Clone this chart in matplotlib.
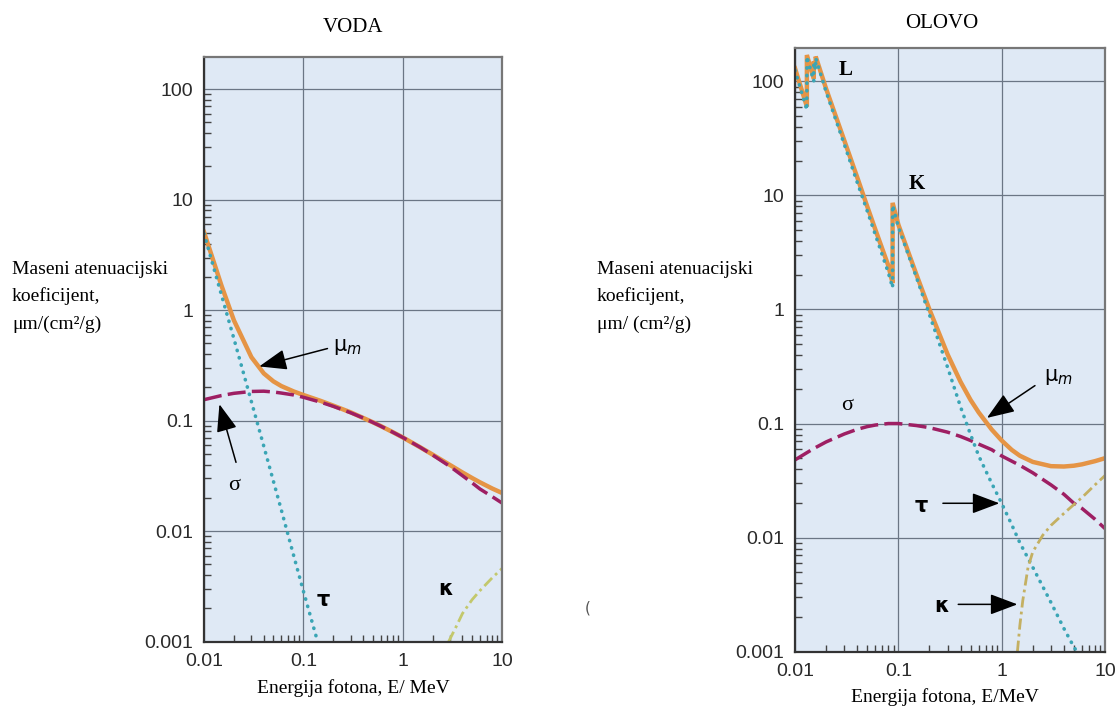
import numpy as np
import matplotlib.pyplot as plt
from matplotlib.ticker import NullFormatter

SANS = ['Liberation Sans', 'DejaVu Sans']
SERIF = ['Liberation Serif', 'DejaVu Serif']

# water (VODA)
e_w = [0.01, 0.015, 0.02, 0.03, 0.04, 0.05, 0.06, 0.08, 0.1, 0.15, 0.2, 0.3, 0.4,
       0.5, 0.6, 0.8, 1, 1.5, 2, 3, 4, 5, 6, 8, 10]
mu_w = [5.1, 1.67, 0.81, 0.376, 0.268, 0.227, 0.206, 0.184, 0.171, 0.151, 0.137, 0.119,
        0.106, 0.0969, 0.0896, 0.0786, 0.0707, 0.0575, 0.0494, 0.0397, 0.034, 0.0303,
        0.0277, 0.0243, 0.0222]
sigma_w = [0.155, 0.169, 0.177, 0.184, 0.185, 0.182, 0.178, 0.171, 0.163, 0.147, 0.135,
           0.118, 0.106, 0.0966, 0.0894, 0.0785, 0.0707, 0.0575, 0.049, 0.0385, 0.0318,
           0.0274, 0.0241, 0.0205, 0.018]
e_tau_w = [0.01, 0.015, 0.02, 0.03, 0.04, 0.05, 0.06, 0.08, 0.1, 0.15]
tau_w = [4.94, 1.37, 0.553, 0.149, 0.0587, 0.0283, 0.0156, 0.006, 0.00288, 0.00079]
e_kap_w = [2.9, 3.5, 4, 5, 6, 8, 10]
kap_w = [0.001, 0.0014, 0.0018, 0.0024, 0.0029, 0.0038, 0.0046]

# lead (OLOVO), repeated energies are the absorption edges
e_pb = [0.01, 0.01303, 0.01303, 0.0152, 0.0152, 0.01586, 0.01586, 0.02, 0.03, 0.04,
        0.05, 0.06, 0.08, 0.088, 0.088, 0.1, 0.15, 0.2, 0.3, 0.4, 0.5, 0.6, 0.8, 1,
        1.25, 1.5, 2, 3, 4, 5, 6, 8, 10]
mu_pb = [130, 60, 170, 105, 150, 132, 165, 86, 30.3, 14.4, 8.0, 5.0, 2.42, 1.7, 8.6,
         5.55, 2.01, 1.0, 0.403, 0.232, 0.161, 0.125, 0.0887, 0.071, 0.0588, 0.0522,
         0.0461, 0.0423, 0.042, 0.0427, 0.0439, 0.0468, 0.0497]
tau_pb = [125, 56, 165, 100, 145, 127, 160, 81, 28, 13, 7.3, 4.5, 2.1, 1.55, 8.2,
          5.3, 1.9, 0.9, 0.31, 0.14, 0.08, 0.052, 0.03, 0.02, 0.013, 0.009, 0.0055,
          0.0027, 0.0016, 0.0011, 0.00085, 0.0006, 0.00045]
e_sig_pb = [0.01, 0.015, 0.02, 0.03, 0.04, 0.05, 0.06, 0.08, 0.1, 0.15, 0.2, 0.3, 0.4,
            0.5, 0.6, 0.8, 1, 1.5, 2, 3, 4, 5, 6, 8, 10]
sigma_pb = [0.048, 0.06, 0.069, 0.081, 0.089, 0.094, 0.097, 0.1, 0.1, 0.096, 0.092,
            0.084, 0.077, 0.071, 0.066, 0.059, 0.052, 0.043, 0.037, 0.029, 0.024, 0.02,
            0.018, 0.0145, 0.012]
e_kap_pb = [1.42, 1.5, 1.6, 1.8, 2, 2.5, 3, 4, 5, 6, 8, 10]
kap_pb = [0.001, 0.0017, 0.0028, 0.0055, 0.0075, 0.0105, 0.0128, 0.0163, 0.0195, 0.0225,
          0.029, 0.035]

x_ticks = [0.01, 0.1, 1, 10]
x_labels = ['0.01', '0.1', '1', '10']
y_ticks = [0.001, 0.01, 0.1, 1, 10, 100]
y_labels = ['0.001', '0.01', '0.1', '1', '10', '100']

C_MU = '#e59445'
C_SIG = '#9e1f63'
C_TAU = '#3aa5b5'

fig = plt.figure(figsize=(11.16, 7.13), dpi=100)
ax1 = fig.add_axes([204 / 1116, 1 - 641.7 / 713, 298 / 1116, 585 / 713])
ax2 = fig.add_axes([795 / 1116, 1 - 651.7 / 713, 310 / 1116, 604 / 713])


def style(ax):
    ax.set_xscale('log')
    ax.set_yscale('log')
    ax.set_xlim(0.01, 10)
    ax.set_ylim(0.001, 197)
    ax.set_facecolor('#dfe9f5')
    ax.grid(True, which='major', color='#6b7685', lw=0.9)
    ax.set_axisbelow(True)
    ax.set_xticks(x_ticks)
    ax.set_xticklabels(x_labels, family=SANS)
    ax.set_yticks(y_ticks)
    ax.set_yticklabels(y_labels, family=SANS)
    ax.xaxis.set_minor_formatter(NullFormatter())
    ax.yaxis.set_minor_formatter(NullFormatter())
    ax.tick_params(which='major', length=0, pad=8, labelsize=14, labelcolor='#2a2a2a')
    ax.tick_params(which='minor', direction='in', length=5, width=1, color='#444')
    for side in ['left', 'bottom']:
        ax.spines[side].set_color('#333')
        ax.spines[side].set_linewidth(1.6)
    for side in ['top', 'right']:
        ax.spines[side].set_color('#777')
        ax.spines[side].set_linewidth(1.6)


def curves(ax, e, mu, e_s, sig, e_t, tau, e_k, kap, c_kap):
    ax.plot(e, mu, color=C_MU, lw=3.2, solid_joinstyle='miter')
    ax.plot(e_s, sig, color=C_SIG, lw=2.5, dashes=(5.2, 1.8))
    ax.plot(e_t, tau, color=C_TAU, lw=2.6, dashes=(0.1, 2.0), dash_capstyle='round')
    ax.plot(e_k, kap, color=c_kap, lw=2.0, dashes=(4, 1.5, 1, 1.5))


def arrow(ax, tip, tail):
    ax.annotate('', xy=tip, xytext=tail,
                arrowprops=dict(arrowstyle='-|>,head_length=0.85,head_width=0.32',
                                mutation_scale=20, color='k', lw=1.1,
                                shrinkA=0, shrinkB=0))


style(ax1)
style(ax2)

curves(ax1, e_w, mu_w, e_w, sigma_w, e_tau_w, tau_w, e_kap_w, kap_w, '#c3c86c')
curves(ax2, e_pb, mu_pb, e_sig_pb, sigma_pb, e_pb, tau_pb, e_kap_pb, kap_pb, '#c4b062')

# labels, water
ax1.text(0.28, 0.46, r'$\mathrm{\mu}_m$', fontsize=15, ha='center', va='center')
arrow(ax1, (0.036, 0.31), (0.175, 0.45))
ax1.text(0.02, 0.026, 'σ', fontsize=16, family=SERIF, ha='center', va='center')
arrow(ax1, (0.0143, 0.141), (0.021, 0.042))
ax1.text(0.16, 0.0024, 'τ', fontsize=15, fontweight='bold', ha='center', va='center')
ax1.text(2.7, 0.003, 'κ', fontsize=15, fontweight='bold', ha='center', va='center')

# labels, lead
ax2.text(0.031, 125, 'L', fontsize=15, family=SERIF, fontweight='bold',
         ha='center', va='center')
ax2.text(0.15, 12.6, 'K', fontsize=15, family=SERIF, fontweight='bold',
         ha='center', va='center')
ax2.text(3.5, 0.255, r'$\mathrm{\mu}_m$', fontsize=15, ha='center', va='center')
arrow(ax2, (0.72, 0.112), (2.1, 0.215))
ax2.text(0.032, 0.144, 'σ', fontsize=16, family=SERIF, ha='center', va='center')
ax2.text(0.165, 0.019, 'τ', fontsize=15, fontweight='bold', ha='center', va='center')
arrow(ax2, (0.95, 0.02), (0.27, 0.02))
ax2.text(0.26, 0.0025, 'κ', fontsize=15, fontweight='bold', ha='center', va='center')
arrow(ax2, (1.42, 0.0026), (0.38, 0.0026))

# titles and axis texts
fig.text(353 / 1116, 1 - 27 / 713, 'VODA', fontsize=15, family=SERIF,
         ha='center', va='center')
fig.text(942 / 1116, 1 - 23 / 713, 'OLOVO', fontsize=15, family=SERIF,
         ha='center', va='center')

for x0, lines in [(12, ['Maseni atenuacijski', 'koeficijent,', 'μm/(cm²/g)']),
                  (597, ['Maseni atenuacijski', 'koeficijent,', 'μm/ (cm²/g)'])]:
    for yy, s in zip([270, 296, 324], lines):
        fig.text(x0 / 1116, 1 - yy / 713, s, fontsize=14, family=SERIF,
                 ha='left', va='center')

fig.text(353 / 1116, 1 - 688 / 713, 'Energija fotona, E/ MeV', fontsize=14,
         family=SERIF, ha='center', va='center')
fig.text(945 / 1116, 1 - 697 / 713, 'Energija fotona, E/MeV', fontsize=14,
         family=SERIF, ha='center', va='center')
fig.text(588 / 1116, 1 - 608 / 713, '(', fontsize=11, color='#555',
         ha='center', va='center')

fig.savefig('out.png', dpi=100, facecolor='white')
